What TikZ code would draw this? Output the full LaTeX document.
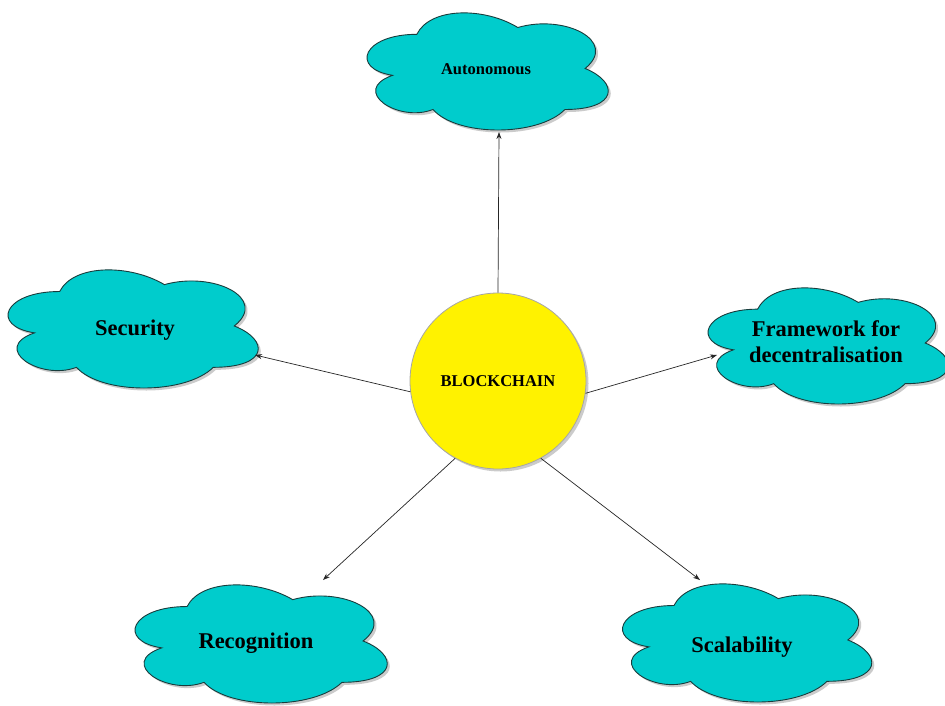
\documentclass[tikz,border=0pt]{standalone}
\usepackage{fontspec}
\setmainfont{Liberation Serif}
\usetikzlibrary{shadows,arrows.meta}
\definecolor{cloudfill}{RGB}{0,204,204}
\definecolor{cloudline}{RGB}{25,60,60}
\tikzset{
  cloudshape/.style={fill=cloudfill, draw=cloudline, line width=0.9pt,
    drop shadow={shadow xshift=2.5pt, shadow yshift=-2.5pt, fill=black!40, opacity=0.5}},
  cloudtext/.style={inner sep=0pt, align=center,
    font=\bfseries\fontsize{22.5}{26}\selectfont},
  hub/.style={circle, fill=yellow, draw=black!35, line width=0.8pt,
    minimum size=176pt, inner sep=0pt,
    font=\bfseries\fontsize{16.5}{20}\selectfont,
    drop shadow={shadow xshift=2.5pt, shadow yshift=-2.5pt, fill=black!40, opacity=0.5}},
  link/.style={-{Stealth[length=7pt,width=5pt]}, line width=0.7pt, draw=black!85}
}
% six-lobed cloud outline, visible part centred at #1,#2 with visible size #3 x #4
\newcommand\cloudat[4]{%
\begin{scope}[shift={(#1,#2)}, xscale=#3/0.895, yscale=#4/0.856, shift={(-0.5125,-0.522)}]
\filldraw[cloudshape] (0.25,0.25)
  .. controls (0.05,0.25) and (0,0.5) .. (0.16,0.55)
  .. controls (0,0.66) and (0.18,0.9) .. (0.31,0.8)
  .. controls (0.4,1) and (0.7,1) .. (0.8,0.8)
  .. controls (1,0.8) and (1,0.6) .. (0.875,0.5)
  .. controls (1,0.3) and (0.8,0.1) .. (0.625,0.2)
  .. controls (0.5,0.05) and (0.3,0.05) .. (0.25,0.25) -- cycle;
\end{scope}}
\begin{document}
\begin{tikzpicture}[x=1pt,y=-1pt]
\useasboundingbox (0,0) rectangle (945,705);
\fill[white] (0,0) rectangle (945,705);

\cloudat{487.5}{71.5}{241}{117}
\cloudat{133}{329}{250}{118}
\cloudat{828}{346}{240}{116}
\cloudat{261}{644}{252}{118}
\cloudat{747}{643}{249}{118}

\node[hub] (bc) at (498,381) {BLOCKCHAIN};

\node[cloudtext, font=\bfseries\fontsize{16.5}{20}\selectfont] (auto) at (486,69) {Autonomous};
\node[cloudtext] (sec) at (135,330) {Security};
\node[cloudtext] (fw) at (826,342) {Framework for\\decentralisation};
\node[cloudtext] (rec) at (256,643) {Recognition};
\node[cloudtext] (sca) at (742,647) {Scalability};

\coordinate (autoTip) at (499,132);
\coordinate (secTip) at (255,355);
\coordinate (fwTip) at (717,355);
\coordinate (recTip) at (323,580);
\coordinate (scaTip) at (700,580);

\draw[link] (bc.90.7) -- (autoTip);
\draw[link] (bc.187.4) -- (secTip);
\draw[link] (bc.352.6) -- (fwTip);
\draw[link] (bc.241.6) -- (recTip);
\draw[link] (bc.299.5) -- (scaTip);
\end{tikzpicture}
\end{document}
